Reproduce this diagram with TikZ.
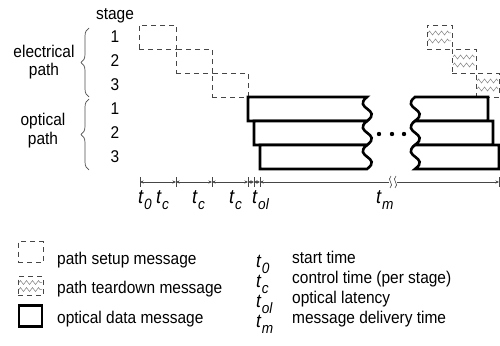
\documentclass[tikz,border=0pt]{standalone}
\usepackage{fontspec}
\setmainfont{Liberation Sans}[FakeStretch=0.91]
\usetikzlibrary{decorations.pathmorphing,decorations.pathreplacing,arrows.meta}
\definecolor{dashgray}{RGB}{70,70,70}
\newcommand{\tlab}[1]{\textit{t}\kern0.3pt\raisebox{-0.32em}{\fontsize{15}{15}\selectfont\textit{#1}}}
\begin{document}
\begin{tikzpicture}[x=1pt,y=-1pt,
  lbl/.style={inner sep=0pt,font=\fontsize{17}{17}\selectfont},
  tl/.style={inner sep=0pt,anchor=base west,font=\fontsize{20}{20}\selectfont},
  setupbox/.style={draw=dashgray,dash pattern=on 5pt off 4pt,line width=0.9pt,inner sep=0pt},
  zig/.style={draw=gray,line width=0.5pt,decorate,decoration={zigzag,segment length=6pt,amplitude=2pt}},
  optic/.style={draw=black,fill=white,line width=2.6pt,line join=miter},
  brc/.style={draw=gray!60!black,line width=0.7pt,decorate,decoration={brace,amplitude=8pt}},
  dim/.style={draw=dashgray,line width=0.6pt,{Stealth[length=3.5pt,width=3pt]}-{Stealth[length=3.5pt,width=3pt]}},
  tick/.style={draw=dashgray,line width=0.6pt}
]
\useasboundingbox (0,0) rectangle (500,345);

% left labels
\node[lbl,anchor=base] (stage) at (115,20) {stage};
\foreach \n/\yy/\d in {e1/37/1,e2/61/2,e3/85/3,o1/109/1,o2/133/2,o3/157/3}
  \node[lbl] (\n) at (115,\yy) {\d};
\node[lbl,anchor=base] (elec) at (44,57) {electrical};
\node[lbl,anchor=base] (epath) at (44,75) {path};
\node[lbl,anchor=base] (opt) at (43,125) {optical};
\node[lbl,anchor=base] (opath) at (43,144) {path};
\draw[brc] (89,97) -- (89,28);
\draw[brc] (89,170) -- (89,99);

% setup messages
\node[setupbox,minimum width=37pt,minimum height=24pt] (s1) at (157.5,37) {};
\node[setupbox,minimum width=36pt,minimum height=24pt] (s2) at (194,61) {};
\node[setupbox,minimum width=36pt,minimum height=24pt] (s3) at (230,85) {};

% teardown messages
\foreach \n/\xa/\xb/\ya in {d1/427/452/25,d2/452/476/49,d3/476/499/73}{
  \node[setupbox,minimum width=\xb pt-\xa pt,minimum height=24pt] (\n) at ({(\xa+\xb)/2},\ya+12) {};
  \draw[zig] (\xa+1,\ya+8) -- (\xb-1,\ya+8);
  \draw[zig] (\xa+1,\ya+16) -- (\xb-1,\ya+16);
}

% optical data messages
\foreach \xl/\xr/\t in {248/488/97,254/493/121,260/499/145}{
  \pgfmathsetmacro{\b}{\t+24}
  \draw[optic] (\xl,\t) -- (367,\t) .. controls (352,\t+12) and (383,\t+12) .. (367,\b) -- (\xl,\b) -- cycle;
  \draw[optic] (415,\t) -- (\xr,\t) -- (\xr,\b) -- (415,\b) .. controls (431,\t+12) and (400,\t+12) .. (415,\t) -- cycle;
}
\foreach \xx in {379,392,404} \fill (\xx,134) circle (2.2pt);

% timeline
\foreach \n/\xx in {T0/140,T1/176,T2/212,T3/248,T4/254,T5/260,T6/499}{
  \coordinate (\n) at (\xx,182);
  \draw[tick] (\xx,177) -- (\xx,187);
}
\draw[dim] (T0) -- (T1);
\draw[dim] (T1) -- (T2);
\draw[dim] (T2) -- (T3);
\draw[dim] (T3) -- (T4);
\draw[dim] (T4) -- (T5);
\draw[dim] (T5) -- (T6);
\fill[white] (389,179) rectangle (397,185);
\draw[tick] (391,176) .. controls (386,180) and (395,184) .. (390,188);
\draw[tick] (396,176) .. controls (391,180) and (400,184) .. (395,188);

\node[tl] (l0) at (138,203) {\tlab{0}};
\node[tl] (l1) at (156,203) {\tlab{c}};
\node[tl] (l2) at (192,203) {\tlab{c}};
\node[tl] (l3) at (229,203) {\tlab{c}};
\node[tl] (l4) at (252,203) {\tlab{ol}};
\node[tl] (l5) at (376,203) {\tlab{m}};

% legend left
\node[setupbox,minimum width=25pt,minimum height=21pt] (ls) at (30.5,252) {};
\node[setupbox,minimum width=25pt,minimum height=19pt] (lt) at (30.5,286) {};
\draw[zig] (19,282.5) -- (42,282.5);
\draw[zig] (19,289.5) -- (42,289.5);
\node[draw,line width=2.6pt,minimum width=23pt,minimum height=21pt,inner sep=0pt] (lo) at (30.5,316) {};
\node[lbl,anchor=base west] (lst) at (57,264) {path setup message};
\node[lbl,anchor=base west] (ltt) at (57,293) {path teardown message};
\node[lbl,anchor=base west] (lot) at (57,323) {optical data message};

% legend right
\node[tl,font=\fontsize{19}{19}\selectfont] (k0) at (256,267) {\tlab{0}};
\node[tl,font=\fontsize{19}{19}\selectfont] (k1) at (256,287) {\tlab{c}};
\node[tl,font=\fontsize{19}{19}\selectfont] (k2) at (256,307) {\tlab{ol}};
\node[tl,font=\fontsize{19}{19}\selectfont] (k3) at (256,327) {\tlab{m}};
\node[lbl,anchor=base west] (kt0) at (292,263) {start time};
\node[lbl,anchor=base west] (kt1) at (292,283) {control time (per stage)};
\node[lbl,anchor=base west] (kt2) at (292,303) {optical latency};
\node[lbl,anchor=base west] (kt3) at (292,323) {message delivery time};
\end{tikzpicture}
\end{document}
